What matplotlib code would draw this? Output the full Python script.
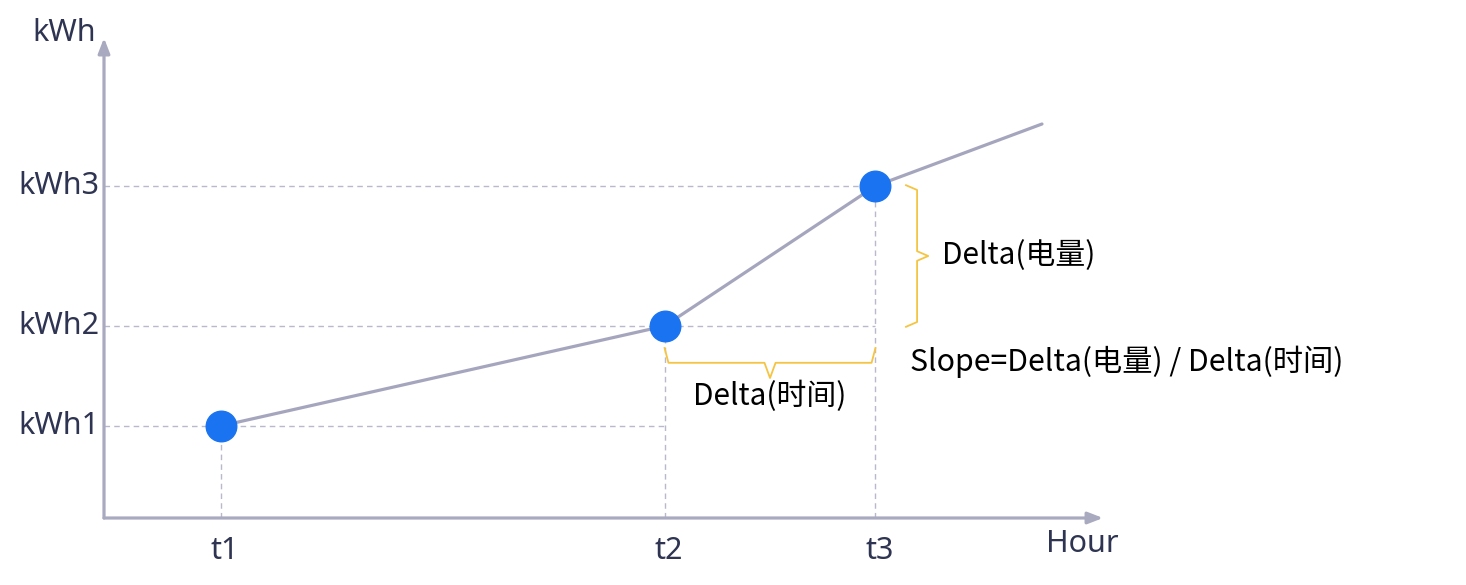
import matplotlib.pyplot as plt

# readings (arbitrary units)
hours = [2.1, 10.1, 13.9]
kwh = [2.3, 4.8, 8.3]
tail_hour = 16.9
tail_kwh = 9.85
time_labels = ["t1", "t2", "t3"]
kwh_labels = ["kWh1", "kWh2", "kWh3"]

axis_col = "#a9aac0"
line_col = "#a5a6bd"
dash_col = "#b9b9cc"
dot_col = "#1a73f0"
brace_col = "#f6c443"
label_col = "#2e3451"

plt.rcParams['font.family'] = ['Noto Sans CJK SC', 'DejaVu Sans']
lab_font = ['Noto Sans', 'DejaVu Sans']

fig = plt.figure(figsize=(14.66, 5.85), dpi=100)
ax = fig.add_axes([0, 0, 1, 1])
ax.set_xlim(-1.874, 24.54)
ax.set_ylim(-1.675, 12.95)
ax.axis("off")

# axes with arrows
ax.annotate("", xy=(18.0, 0), xytext=(0, 0),
            arrowprops=dict(arrowstyle="-|>,head_length=0.9,head_width=0.35",
                            color=axis_col, lw=2.3, shrinkA=0, shrinkB=0))
ax.annotate("", xy=(0, 12.0), xytext=(0, 0),
            arrowprops=dict(arrowstyle="-|>,head_length=0.9,head_width=0.35",
                            color=axis_col, lw=2.3, shrinkA=0, shrinkB=0))

# dashed guide lines
dash = dict(color=dash_col, lw=1.0, ls=(0, (4, 3)), zorder=1)
ax.plot([0, hours[2]], [kwh[2], kwh[2]], **dash)
ax.plot([0, hours[2]], [kwh[1], kwh[1]], **dash)
ax.plot([0, hours[1]], [kwh[0], kwh[0]], **dash)
for h, k in zip(hours, kwh):
    ax.plot([h, h], [0, k], **dash)

# curve
ax.plot(hours + [tail_hour], kwh + [tail_kwh], color=line_col, lw=2.3,
        solid_capstyle="round", zorder=2)
ax.plot(hours, kwh, "o", color=dot_col, markersize=22, zorder=3)

# vertical brace (delta kWh)
bx, bs, bt = 14.45, 14.65, 14.85
ym = (kwh[1] + kwh[2]) / 2
ax.plot([bx, bs, bs, bt, bs, bs, bx],
        [kwh[2] + 0.02, kwh[2] - 0.1, ym + 0.12, ym, ym - 0.12, kwh[1] + 0.1, kwh[1] - 0.02],
        color=brace_col, lw=1.3)

# horizontal brace (delta t)
hy, hs, ht = 4.25, 3.88, 3.5
xm = (hours[1] + hours[2]) / 2
ax.plot([hours[1], hours[1] + 0.07, xm - 0.1, xm, xm + 0.1, hours[2] - 0.07, hours[2]],
        [hy, hs, hs, ht, hs, hs, hy],
        color=brace_col, lw=1.3)

# annotation text
ax.text(15.1, ym, "Delta(电量)", fontsize=21.5, va="center", ha="left", color="black")
ax.text(xm, 3.05, "Delta(时间)", fontsize=21.5, va="center", ha="center", color="black")
ax.text(14.53, 3.9, "Slope=Delta(电量) / Delta(时间)", fontsize=21.8,
        va="center", ha="left", color="black")

# tick labels
for h, lab in zip(hours, time_labels):
    ax.text(h + 0.07, -0.82, lab, fontsize=22, ha="center", va="center",
            color=label_col, family=lab_font)
for k, lab in zip(kwh, kwh_labels):
    ax.text(-0.09, k, lab, fontsize=22, ha="right", va="center",
            color=label_col, family=lab_font)
ax.text(-0.14, 12.12, "kWh", fontsize=22, ha="right", va="center",
        color=label_col, family=lab_font)
ax.text(17.62, -0.66, "Hour", fontsize=22, ha="center", va="center",
        color=label_col, family=lab_font)

fig.savefig("out.png", dpi=100)
